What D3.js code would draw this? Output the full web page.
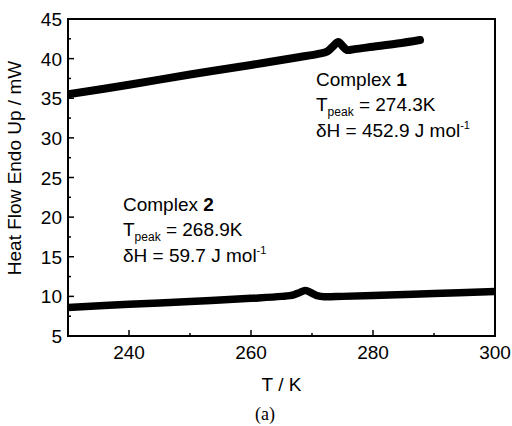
<!DOCTYPE html>
<html>
<head>
<meta charset="utf-8">
<script src="https://cdn.jsdelivr.net/npm/d3@7"></script>
<style>
  body { margin: 0; background: #fff; }
  svg { display: block; font-family: "Liberation Sans", Arial, sans-serif; }
</style>
</head>
<body>
<svg id="chart" width="512" height="426"></svg>
<script>
// Complex 1 trace
const temp1 = [230, 240, 250, 260, 268, 271, 272.5, 273.5, 274.3, 275.0, 275.7, 277, 280, 284, 287.7];
const flow1 = [35.5, 36.7, 38.0, 39.2, 40.2, 40.6, 40.9, 41.6, 42.1, 41.6, 41.1, 41.2, 41.5, 41.9, 42.35];

// Complex 2 trace
const temp2 = [230, 240, 250, 260, 265, 267, 268, 268.9, 270, 271, 272, 275, 280, 290, 300];
const flow2 = [8.6, 9.0, 9.35, 9.75, 10.0, 10.2, 10.5, 10.75, 10.4, 10.05, 9.95, 10.0, 10.1, 10.35, 10.6];

const xTicks = [240, 260, 280, 300];
const yTicks = [5, 10, 15, 20, 25, 30, 35, 40, 45];

const svg = d3.select('#chart');
const margin = { left: 68, top: 19, right: 17, bottom: 90 };
const W = 512, H = 426;

const x = d3.scaleLinear().domain([230, 300]).range([margin.left, W - margin.right]);
const y = d3.scaleLinear().domain([5, 45]).range([H - margin.bottom, margin.top]);

svg.append('defs').append('clipPath').attr('id', 'plot-clip')
  .append('rect')
  .attr('x', x(230)).attr('y', y(45))
  .attr('width', x(300) - x(230)).attr('height', y(5) - y(45));

const line = d3.line()
  .x(d => x(d[0]))
  .y(d => y(d[1]))
  .curve(d3.curveCatmullRom.alpha(0.5));

const series = [
  { pts: d3.zip(temp1, flow1), width: 8 },
  { pts: d3.zip(temp2, flow2), width: 7.5 }
];

svg.append('g').attr('clip-path', 'url(#plot-clip)')
  .selectAll('path')
  .data(series)
  .join('path')
  .attr('d', d => line(d.pts))
  .attr('fill', 'none')
  .attr('stroke', '#000')
  .attr('stroke-width', d => d.width)
  .attr('stroke-linecap', 'round')
  .attr('stroke-linejoin', 'round');

// 坐标轴：刻度朝内
const minorX = d3.range(230, 301, 10);
const minorY = d3.range(7.5, 45, 5);

const xAxis = svg.append('g').attr('transform', `translate(0,${y(5)})`);
xAxis.selectAll('line.minor').data(minorX).join('line')
  .attr('x1', d => x(d)).attr('x2', d => x(d))
  .attr('y1', 0).attr('y2', d => xTicks.includes(d) ? -6 : -3)
  .attr('stroke', '#000').attr('stroke-width', 1.5);
xAxis.selectAll('text').data(xTicks).join('text')
  .attr('x', d => x(d)).attr('y', 23)
  .attr('text-anchor', 'middle')
  .attr('font-size', 19)
  .text(d => d);

const yAxis = svg.append('g').attr('transform', `translate(${x(230)},0)`);
yAxis.selectAll('line.major').data(yTicks).join('line')
  .attr('x1', 0).attr('x2', 6)
  .attr('y1', d => y(d)).attr('y2', d => y(d))
  .attr('stroke', '#000').attr('stroke-width', 1.5);
yAxis.selectAll('line.minor').data(minorY).join('line')
  .attr('class', 'minor')
  .attr('x1', 0).attr('x2', 3)
  .attr('y1', d => y(d)).attr('y2', d => y(d))
  .attr('stroke', '#000').attr('stroke-width', 1.5);
yAxis.selectAll('text').data(yTicks).join('text')
  .attr('x', -6).attr('y', d => y(d) + 7)
  .attr('text-anchor', 'end')
  .attr('font-size', 19)
  .text(d => d);

// 边框
svg.append('rect')
  .attr('x', x(230)).attr('y', y(45))
  .attr('width', x(300) - x(230)).attr('height', y(5) - y(45))
  .attr('fill', 'none').attr('stroke', '#000').attr('stroke-width', 2);

// 轴标题
svg.append('text')
  .attr('x', (x(230) + x(300)) / 2).attr('y', 391)
  .attr('text-anchor', 'middle').attr('font-size', 19)
  .text('T / K');

svg.append('text')
  .attr('transform', 'translate(21,168) rotate(-90)')
  .attr('text-anchor', 'middle').attr('font-size', 19)
  .text('Heat Flow Endo Up / mW');

svg.append('text')
  .attr('x', 265).attr('y', 420)
  .attr('text-anchor', 'middle')
  .attr('font-family', '"Liberation Serif", "Times New Roman", serif')
  .attr('font-size', 18)
  .text('(a)');

// 注释
const notes = [
  { x: 316, y: 86, name: '1', tpeak: '274.3K', dh: '452.9' },
  { x: 123, y: 211, name: '2', tpeak: '268.9K', dh: '59.7' }
];

notes.forEach(n => {
  const g = svg.append('g').attr('font-size', 19);
  const t1 = g.append('text').attr('x', n.x).attr('y', n.y);
  t1.append('tspan').text('Complex ');
  t1.append('tspan').attr('font-weight', 'bold').text(n.name);

  const t2 = g.append('text').attr('x', n.x).attr('y', n.y + 25);
  t2.append('tspan').text('T');
  t2.append('tspan').attr('font-size', 12).attr('dy', 5).text('peak');
  t2.append('tspan').attr('dy', -5).text(' = ' + n.tpeak);

  const t3 = g.append('text').attr('x', n.x).attr('y', n.y + 51);
  t3.append('tspan').text('δH = ' + n.dh + ' J mol');
  t3.append('tspan').attr('font-size', 11).attr('dy', -8).text('-1');
});
</script>
</body>
</html>
